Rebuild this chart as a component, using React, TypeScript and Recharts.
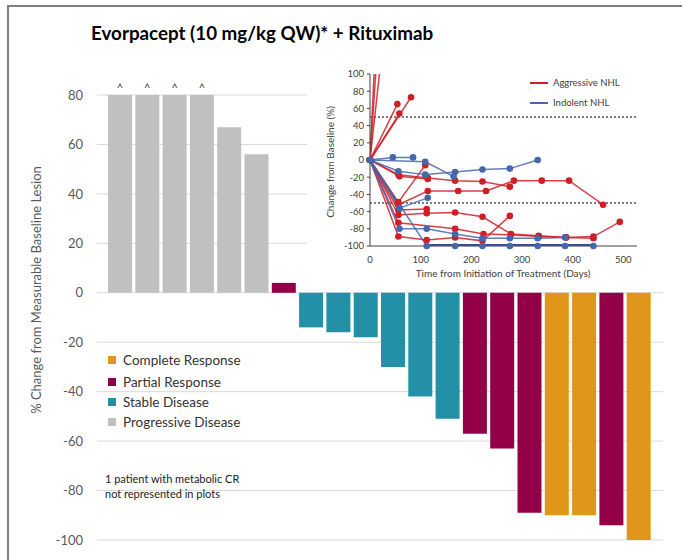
import React from "react";
import {
  BarChart,
  Bar,
  XAxis,
  YAxis,
  CartesianGrid,
  Cell,
  LabelList,
  LineChart,
  Line,
  ReferenceLine,
} from "recharts";

// waterfall: best % change per patient
const responses = ["PD", "PD", "PD", "PD", "PD", "PD", "PR", "SD", "SD", "SD", "SD", "SD", "SD", "PR", "PR", "PR", "CR", "CR", "PR", "CR"];
const changes = [80, 80, 80, 80, 67, 56, 4, -14, -16, -18, -30, -42, -51, -57, -63, -89, -90, -90, -94, -100];
const capped = [true, true, true, true, false, false, false, false, false, false, false, false, false, false, false, false, false, false, false, false];
const yTicks = [-100, -80, -60, -40, -20, 0, 20, 40, 60, 80];

const responseColors: Record<string, string> = {
  CR: "#E0961B",
  PR: "#930047",
  SD: "#2290A6",
  PD: "#C0C0C0",
};
const legendItems = [
  ["CR", "Complete Response"],
  ["PR", "Partial Response"],
  ["SD", "Stable Disease"],
  ["PD", "Progressive Disease"],
];

// spider plot: [day, % change] per patient
const aggressive: number[][][] = [
  [[0, 0], [56, 700]],
  [[0, 0], [56, 500]],
  [[0, 0], [56, 300]],
  [[0, 0], [54, 65]],
  [[0, 0], [58, 54]],
  [[0, 0], [81, 73]],
  [[0, 0], [56, -49], [109, -6]],
  [[0, 0], [56, -17], [114, -21], [168, -24], [222, -25], [276, -31]],
  [[0, 0], [58, -19], [114, -22]],
  [[0, 0], [56, -52], [114, -36], [174, -36], [229, -36], [284, -24], [339, -24], [393, -24], [460, -52]],
  [[0, 0], [56, -58], [112, -57]],
  [[0, 0], [56, -64], [112, -62], [168, -61], [222, -66], [278, -86], [333, -88], [387, -90], [441, -91]],
  [[0, 0], [56, -73], [168, -80], [224, -86], [278, -87], [333, -89], [387, -90], [441, -89], [493, -72]],
  [[0, 0], [56, -89], [112, -93], [168, -90], [222, -94], [276, -65]],
];
const indolent: number[][][] = [
  [[0, 0], [45, 3], [85, 3]],
  [[0, 0], [109, -2], [165, -19]],
  [[0, 0], [56, -13], [109, -17], [168, -14], [222, -11], [276, -10], [331, 0]],
  [[0, 0], [58, -56], [114, -44]],
  [[0, 0], [58, -80], [112, -80], [168, -86], [222, -91], [276, -91], [331, -91], [385, -90]],
  [[0, 0], [112, -100], [168, -100], [222, -100], [276, -100], [331, -100], [385, -100], [441, -100]],
];
const dayTicks = [0, 100, 200, 300, 400, 500];
const pctTicks = [-100, -80, -60, -40, -20, 0, 20, 40, 60, 80, 100];

const RED = "#CF1F26";
const BLUE = "#4467AE";

const toPoints = (p: number[][]) => p.map(([day, value]) => ({ day, value }));

// the stretch lying on the -100 floor gets half clipped, so it is redrawn heavier
const floorPart = (p: number[][]) => p.filter(([, v]) => v === -100);

const Inset = () => (
  <div style={{ position: "absolute", left: 307, top: 62, width: 358, height: 220, background: "#fff" }}>
    <LineChart width={358} height={220} margin={{ top: 12, right: 28, bottom: 16, left: 33 }}>
      <XAxis
        type="number"
        dataKey="day"
        domain={[0, 527]}
        ticks={dayTicks}
        allowDataOverflow
        axisLine={{ stroke: "#404040" }}
        tickLine={false}
        tick={{ fontSize: 9.5, fill: "#404040" }}
        tickMargin={4}
        height={20}
      />
      <YAxis
        type="number"
        dataKey="value"
        domain={[-100, 100]}
        ticks={pctTicks}
        interval={0}
        allowDataOverflow
        axisLine={{ stroke: "#404040" }}
        tickLine={{ stroke: "#404040" }}
        tickSize={3}
        tickMargin={3}
        tick={{ fontSize: 9.5, fill: "#404040" }}
        width={30}
      />
      <ReferenceLine y={50} stroke="#000" strokeDasharray="2 2" />
      <ReferenceLine y={-50} stroke="#000" strokeDasharray="2 2" />
      {aggressive.map((p, i) => (
        <Line
          key={"a" + i}
          data={toPoints(p)}
          dataKey="value"
          stroke={RED}
          strokeOpacity={0.85}
          strokeWidth={1.5}
          dot={{ r: 3.3, fill: RED, stroke: "none", clipDot: false }}
          activeDot={false}
          isAnimationActive={false}
        />
      ))}
      {indolent.map((p, i) =>
        floorPart(p).length > 1 ? (
          <Line
            key={"f" + i}
            data={toPoints(floorPart(p))}
            dataKey="value"
            stroke="#34508F"
            strokeWidth={4}
            dot={false}
            activeDot={false}
            isAnimationActive={false}
          />
        ) : null
      )}
      {indolent.map((p, i) => (
        <Line
          key={"i" + i}
          data={toPoints(p)}
          dataKey="value"
          stroke={BLUE}
          strokeOpacity={0.85}
          strokeWidth={1.5}
          dot={{ r: 3.3, fill: BLUE, stroke: "none", clipDot: false }}
          activeDot={false}
          isAnimationActive={false}
        />
      ))}
    </LineChart>
    <div style={{ position: "absolute", left: 223, top: 20, width: 18, height: 2, background: RED }} />
    <div style={{ position: "absolute", left: 246, top: 15, fontSize: 9.5, color: "#404040" }}>Aggressive NHL</div>
    <div style={{ position: "absolute", left: 223, top: 40, width: 18, height: 2, background: BLUE }} />
    <div style={{ position: "absolute", left: 246, top: 35, fontSize: 9.5, color: "#404040" }}>Indolent NHL</div>
    <div
      style={{
        position: "absolute",
        left: 23,
        top: 100,
        transform: "translate(-50%, -50%) rotate(-90deg)",
        whiteSpace: "nowrap",
        fontSize: 10,
        color: "#404040",
      }}
    >
      Change from Baseline (%)
    </div>
    <div
      style={{
        position: "absolute",
        left: 196,
        top: 211,
        transform: "translate(-50%, -50%)",
        whiteSpace: "nowrap",
        fontSize: 10,
        color: "#404040",
      }}
    >
      Time from Initiation of Treatment (Days)
    </div>
  </div>
);

const App = () => {
  const barData = changes.map((v, i) => ({
    id: i + 1,
    change: v,
    response: responses[i],
    mark: capped[i] ? "^" : "",
  }));

  return (
    <div
      style={{
        position: "absolute",
        left: 0,
        top: 0,
        width: 682,
        height: 560,
        background: "#fff",
        overflow: "hidden",
        fontFamily: "Lato, 'Open Sans', sans-serif",
      }}
    >
      <div style={{ position: "absolute", left: 0, top: 0 }}>
        <BarChart width={682} height={560} data={barData} margin={{ top: 95, right: 19, bottom: 20, left: 57 }}>
          <CartesianGrid vertical={false} stroke="#D9D9D9" />
          <XAxis dataKey="id" hide padding={{ left: 9, right: 11 }} />
          <YAxis
            type="number"
            domain={[-100, 80]}
            ticks={yTicks}
            interval={0}
            width={40}
            axisLine={false}
            tickLine={false}
            tickMargin={8}
            tick={{ fontSize: 13, fill: "#595959" }}
          />
          <Bar dataKey="change" barSize={24} isAnimationActive={false}>
            {barData.map((d) => (
              <Cell key={d.id} fill={responseColors[d.response]} />
            ))}
            <LabelList dataKey="mark" position="top" offset={3} fill="#333" fontSize={11} />
          </Bar>
        </BarChart>
      </div>

      <div style={{ position: "absolute", left: 7, top: 5, width: 675, height: 2, background: "#808080" }} />
      <div style={{ position: "absolute", left: 7, top: 5, width: 2, height: 555, background: "#808080" }} />

      <div style={{ position: "absolute", left: 91, top: 21, fontSize: 18.8, fontWeight: 700, color: "#000", whiteSpace: "nowrap" }}>
        Evorpacept (10 mg/kg QW)* + Rituximab
      </div>

      <div
        style={{
          position: "absolute",
          left: 36,
          top: 290,
          transform: "translate(-50%, -50%) rotate(-90deg)",
          whiteSpace: "nowrap",
          fontSize: 13,
          color: "#595959",
        }}
      >
        % Change from Measurable Baseline Lesion
      </div>

      {legendItems.map(([k, label], i) => (
        <div key={k} style={{ position: "absolute", left: 108, top: [360, 382, 402, 422][i] - 9, display: "flex", alignItems: "center", height: 18 }}>
          <div style={{ width: 8, height: 8, background: responseColors[k], marginRight: 7 }} />
          <span style={{ fontSize: 13.5, color: "#333" }}>{label}</span>
        </div>
      ))}

      <div style={{ position: "absolute", left: 105, top: 471, fontSize: 11, lineHeight: "15px", color: "#222" }}>
        1 patient with metabolic CR
        <br />
        not represented in plots
      </div>

      <Inset />
    </div>
  );
};

export default App;
